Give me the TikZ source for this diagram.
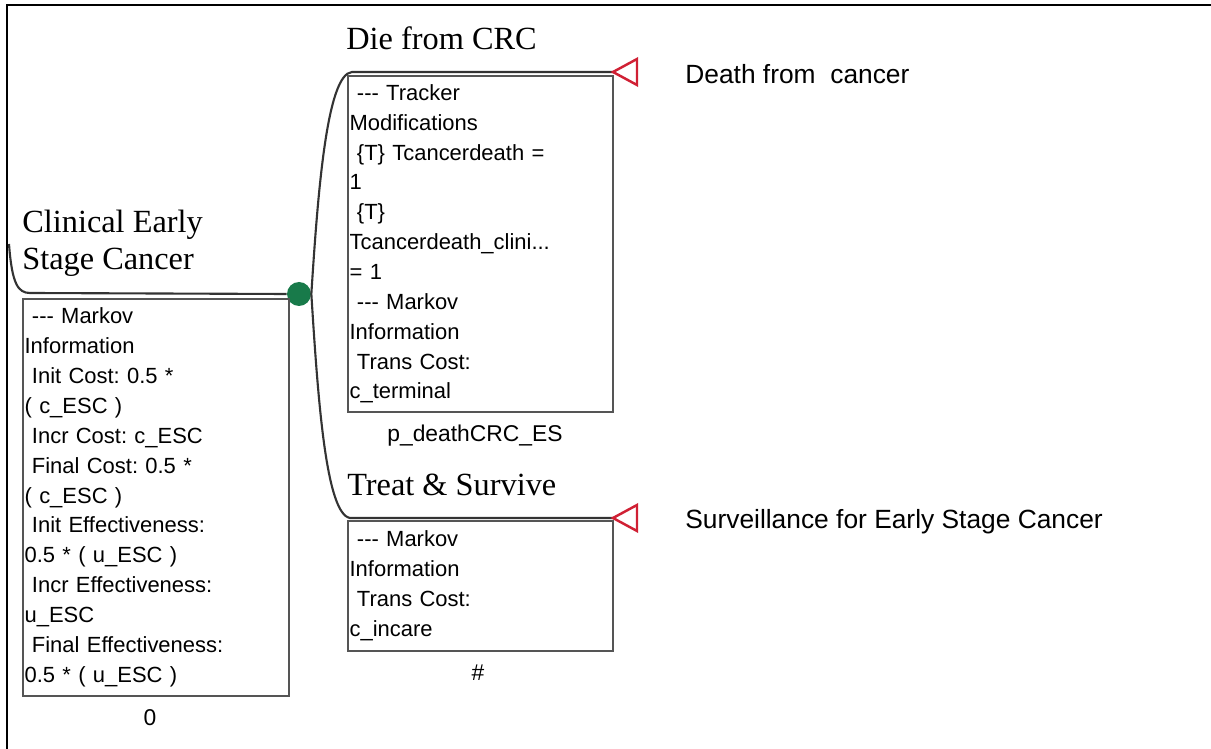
\documentclass[tikz,border=0pt]{standalone}
\usepackage{fontspec}
\setmainfont{Liberation Sans}
\newfontfamily\treeserif{Liberation Serif}
\frenchspacing
\definecolor{chancegreen}{RGB}{24,122,74}
\definecolor{termred}{RGB}{208,32,52}
\definecolor{boxgray}{RGB}{85,85,85}
\newcommand{\dashes}{-{}-{}-}
\tikzset{
  branch/.style={line width=1.2pt, black!80},
  infobox/.style={draw=boxgray, line width=1pt, anchor=north west, align=left,
    inner xsep=1pt, inner ysep=2pt, font=\fontsize{12.5}{17}\selectfont},
  statename/.style={anchor=west, align=left, inner sep=0pt,
    font=\treeserif\fontsize{18.4}{21}\selectfont},
  payoff/.style={anchor=west, inner sep=0pt, font=\fontsize{15}{18}\selectfont},
  problabel/.style={inner sep=0pt, font=\fontsize{13}{15}\selectfont},
  chance/.style={circle, fill=chancegreen, minimum size=0.48cm, inner sep=0pt},
  termtri/.style={draw=termred, line width=1.4pt, fill=white, line join=miter}
}
\begin{document}
\begin{tikzpicture}[x=0.02cm, y=-0.02cm]
    \useasboundingbox (0,0) rectangle (1211,749);

    % Frame
    \draw[line width=1.6pt] (7,749) -- (7,5) -- (1211,5);

    % Root state: Clinical Early Stage Cancer
    \node[statename] (rootname) at (22,243) {Clinical Early\\Stage Cancer};
    \node[chance] (cn) at (299,294) {};
    \coordinate (rootin) at (9,244);
    \coordinate (rootcorner) at (30,293);
    \draw[branch] (rootin) .. controls (12,284) and (18,293) .. (rootcorner) -- (cn.west);
    \node[infobox, text width=5.32cm-2pt, minimum height=7.94cm] (rootbox) at (22,298)
        {\ \dashes{} Markov\\Information\\\ Init Cost: 0.5 *\\( c\_ESC )\\\ Incr Cost: c\_ESC\\
         \ Final Cost: 0.5 *\\( c\_ESC )\\\ Init Effectiveness:\\0.5 * ( u\_ESC )\\
         \ Incr Effectiveness:\\u\_ESC\\\ Final Effectiveness:\\0.5 * ( u\_ESC )};
    \node[problabel] (rootprob) at (150,718) {0};

    % Branch: Die from CRC
    \coordinate (dcorner) at (352,72);
    \coordinate (dtip) at (613,72);
    \draw[branch] (cn.east) .. controls (318,190) and (327,74) .. (dcorner) -- (dtip);
    \draw[termtri] (dtip) -- ++(24,-13) -- ++(0,26) -- cycle;
    \node[statename] (dname) at (346,38) {Die from CRC};
    \node[infobox, text width=5.3cm-2pt, minimum height=6.72cm] (dbox) at (347,75)
        {\ \dashes{} Tracker\\Modifications\\\ \{T\} Tcancerdeath =\\1\\\ \{T\}\\
         Tcancerdeath\_clini...\\= 1\\\ \dashes{} Markov\\Information\\\ Trans Cost:\\c\_terminal};
    \node[problabel] (dprob) at (475,436) {p\_deathCRC\_ES};
    \node[payoff] (dpay) at (685,74) {Death from\ \ cancer};

    % Branch: Treat & Survive
    \coordinate (tcorner) at (350,518);
    \coordinate (ttip) at (613,518);
    \draw[branch] (cn.east) .. controls (318,400) and (326,514) .. (tcorner) -- (ttip);
    \draw[termtri] (ttip) -- ++(24,-13) -- ++(0,26) -- cycle;
    \node[statename] (tname) at (347,485) {Treat \& Survive};
    \node[infobox, text width=5.3cm-2pt, minimum height=2.6cm] (tbox) at (347,520)
        {\ \dashes{} Markov\\Information\\\ Trans Cost:\\c\_incare};
    \node[problabel] (tprob) at (478,673) {\#};
    \node[payoff] (tpay) at (685,522) {Surveillance for Early Stage Cancer};
\end{tikzpicture}
\end{document}
